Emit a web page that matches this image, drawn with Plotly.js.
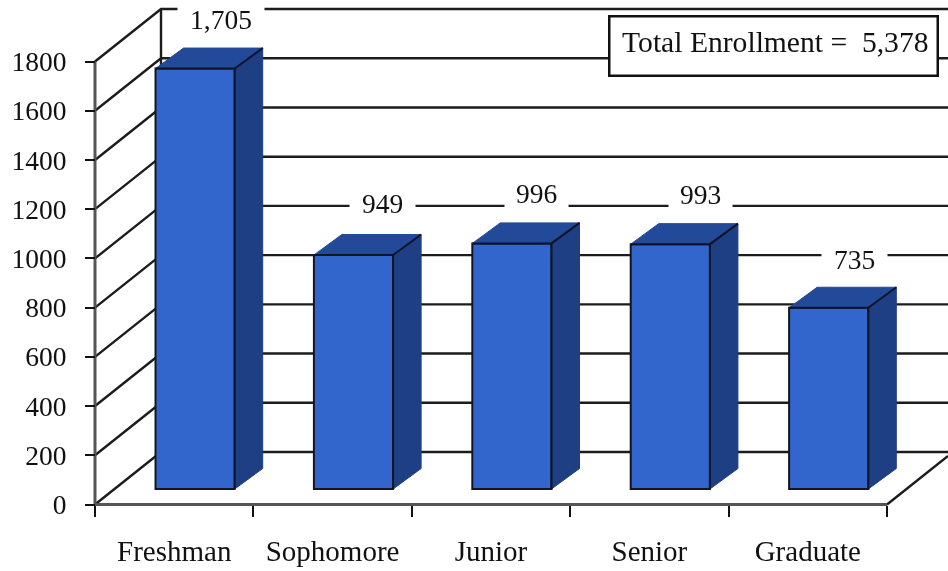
<!DOCTYPE html>
<html><head><meta charset="utf-8">
<script src="https://cdn.plot.ly/plotly-3.0.1.min.js"></script>
<style>html,body{margin:0;padding:0;background:#fff}#chart{width:948px;height:571px;filter:blur(0.55px)}</style>
</head><body><div id="chart"></div>
<script>
const categories = ["Freshman","Sophomore","Junior","Senior","Graduate"];
const enrollment = [1705,949,996,993,735];
const valueLabels = ["1,705","949","996","993","735"];
const yTicks = [0,200,400,600,800,1000,1200,1400,1600,1800];
const totalLabel = "Total Enrollment =\u00A0\u00A05,378";

const W=948,H=571;
const FONT="Liberation Serif, serif", INK="#111";
const pxX=158.4, pxY=0.2461, pxY2=0.2466;
const x0=95, y0=504.5, barFloor=489;
const xi=categories.map((_,i)=>i);
const barW=0.5, barOff=-0.118;
const wallDX=66/pxX, wallDY=52.5/pxY;
const barDX=28/pxX, barDY=20.5/pxY2;
const rightEdge=(W-x0)/pxX-0.5;
const leftEdge=-x0/pxX-0.5;

// walls and floor
const gx=[],gy=[];
yTicks.forEach(v=>{gx.push(-0.5,-0.5+wallDX,rightEdge,null);gy.push(v,v+wallDY,v+wallDY,null);});
gx.push(-0.5+wallDX,-0.5+wallDX,null);gy.push(wallDY,1800+wallDY,null);
gx.push(4.5,rightEdge);gy.push(0,(rightEdge-4.5)*pxX*(52.5/66)/pxY);

const traces=[
 {type:"scatter",mode:"lines",x:gx,y:gy,xaxis:"x",yaxis:"y",hoverinfo:"skip",showlegend:false,
  line:{color:"#1c1c1c",width:2.4}},
 {type:"scatter",mode:"lines",x:[-0.5,-0.5,null,-0.5,4.5],y:[1800,0,null,0,0],xaxis:"x",yaxis:"y",hoverinfo:"skip",showlegend:false,
  line:{color:"#555",width:3}},
 {type:"bar",x:xi,y:enrollment,width:barW,offset:barOff,xaxis:"x",yaxis:"y2",showlegend:false,
  marker:{color:"#3366CC",line:{color:"#15151f",width:2}}}
];
const sx=[],sy=[],tx=[],ty=[],ex=[],ey=[];
xi.forEach((c,i)=>{
 const l=c+barOff,r=l+barW,v=enrollment[i];
 sx.push(r,r+barDX,r+barDX,r,r,null);sy.push(0,barDY,v+barDY,v,0,null);
 tx.push(l,l+barDX,r+barDX,r,l,null);ty.push(v,v+barDY,v+barDY,v,v,null);
 ex.push(l,r,r,null,r,r+barDX,null);ey.push(v,v,0,null,v,v+barDY,null);
});
traces.push({type:"scatter",mode:"lines",x:sx,y:sy,xaxis:"x",yaxis:"y2",fill:"toself",fillcolor:"#1F3F85",
 showlegend:false,hoverinfo:"skip",line:{color:"#1F3F85",width:1}});
traces.push({type:"scatter",mode:"lines",x:tx,y:ty,xaxis:"x",yaxis:"y2",fill:"toself",fillcolor:"#234A99",
 showlegend:false,hoverinfo:"skip",line:{color:"#234A99",width:1}});
traces.push({type:"scatter",mode:"lines",x:ex,y:ey,xaxis:"x",yaxis:"y2",
 showlegend:false,hoverinfo:"skip",line:{color:"#0d1428",width:2}});

const lblDX=[47,50,45,51,47], lblDY=[49.5,51,50,50,48], lblW=[84,63,61,61,63];
const annotations=valueLabels.map((t,i)=>({
 text:t,x:i,y:enrollment[i],xref:"x",yref:"y2",xanchor:"center",yanchor:"middle",
 xshift:lblDX[i],yshift:lblDY[i],showarrow:false,bgcolor:"#fff",width:lblW[i],height:33,
 font:{family:FONT,size:27.5,color:INK}}));
annotations.push({text:totalLabel,xref:"paper",yref:"paper",x:773.5/W,y:1-46/H,xanchor:"center",yanchor:"middle",
 showarrow:false,bgcolor:"#fff",bordercolor:"#111",borderwidth:2.5,borderpad:8,width:310,height:41,align:"right",valign:"top",
 font:{family:FONT,size:29.6,color:INK}});

const layout={
 width:W,height:H,margin:{l:0,r:0,t:0,b:0},paper_bgcolor:"#fff",plot_bgcolor:"rgba(0,0,0,0)",showlegend:false,bargap:0,
 font:{family:FONT,size:27.5,color:INK},
 xaxis:{type:"linear",domain:[0,1],range:[leftEdge,rightEdge],anchor:"free",position:1-y0/H,tickmode:"array",tickvals:xi,ticktext:categories,
  ticks:"",showgrid:false,zeroline:false,showline:false,ticklabelstandoff:26,
  minor:{tickmode:"array",tickvals:[-0.5,0.5,1.5,2.5,3.5,4.5],ticks:"outside",ticklen:11,tickwidth:2,tickcolor:"#111",showgrid:false},
  tickfont:{family:FONT,size:29,color:INK}},
 yaxis:{domain:[0,1],range:[(y0-H)/pxY,y0/pxY],anchor:"free",position:x0/W,tickmode:"array",tickvals:yTicks,
  ticks:"outside",ticklen:10,tickwidth:2,tickcolor:"#111",showgrid:false,zeroline:false,showline:false,
  ticklabelstandoff:13,tickfont:{family:FONT,size:27.5,color:INK}},
 yaxis2:{range:[(barFloor-H)/pxY2,barFloor/pxY2],anchor:"x",overlaying:"y",visible:false,showgrid:false,zeroline:false},
 annotations
};
Plotly.newPlot("chart",traces,layout,{displayModeBar:false,staticPlot:true});
</script></body></html>
